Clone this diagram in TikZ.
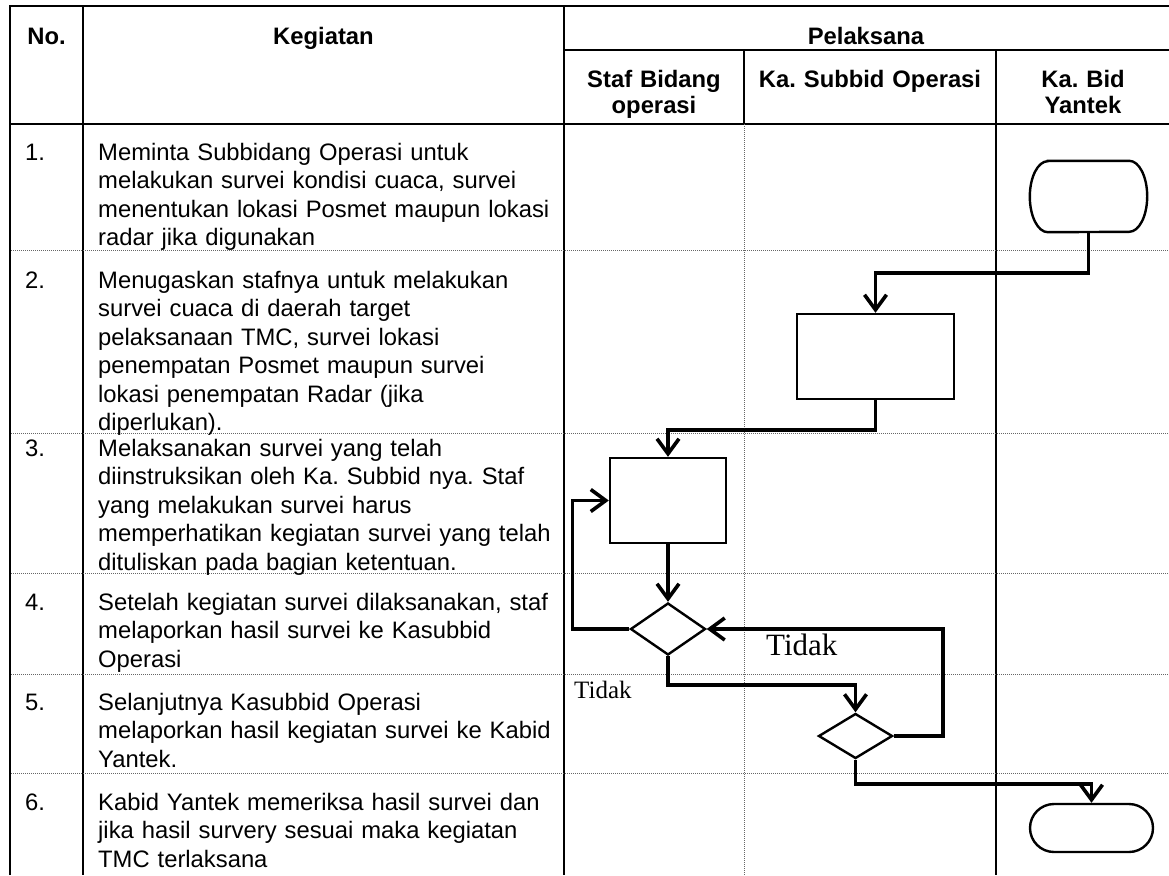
\documentclass[tikz,border=0pt]{standalone}
\usepackage{fontspec}
\setmainfont{Liberation Sans}
\newfontfamily\notefont{Liberation Serif}
\usetikzlibrary{shapes.geometric,arrows.meta}
\frenchspacing

\begin{document}
\begin{tikzpicture}[x=1pt,y=-1pt,
  frame/.style={line width=2.2pt},
  rowline/.style={line width=1pt, black!60, dash pattern=on 1pt off 1pt},
  num/.style={anchor=base west, inner sep=0pt, font=\fontsize{23.8}{28.5}\selectfont},
  task/.style={num, text width=470pt, align=left},
  head/.style={anchor=base, inner sep=0pt, align=center, text width=240pt, font=\fontsize{23.8}{25}\selectfont\bfseries},
  proc/.style={draw, line width=2.4pt, rectangle, inner sep=0pt},
  term/.style={proc, rounded corners=24pt},
  dec/.style={draw, line width=2.4pt, diamond, inner sep=0pt},
  flow/.style={line width=3.6pt, -{Straight Barb[length=15pt,width=22pt]}},
  tidak/.style={anchor=base west, inner sep=0pt}
]
\useasboundingbox (0,0) rectangle (1169,875);
\draw[frame] (10,875) -- (10,6) -- (1169,6);
\draw[frame] (83,6) -- (83,875);
\draw[frame] (564,6) -- (564,875);
\draw[frame] (564,50) -- (1169,50);
\draw[frame] (10,124) -- (1169,124);
\draw[frame] (744,50) -- (744,124);
\draw[frame] (996,50) -- (996,875);
\draw[rowline] (744,124) -- (744,875);
\foreach \ry in {250,433,573,674,773}
  \draw[rowline] (11,\ry) -- (1169,\ry);

\node[head, text width=70pt] (hNo) at (46.5,45) {No.};
\node[head] (hKeg) at (323.5,45) {Kegiatan};
\node[head] (hPel) at (866,45) {Pelaksana};
\node[head, text width=170pt] (hStaf) at (654,88) {Staf Bidang\\operasi};
\node[head] (hSub) at (870,88) {Ka. Subbid Operasi};
\node[head, text width=160pt] (hBid) at (1083,88) {Ka. Bid\\Yantek};

\node[num] (no1) at (25,160) {1.};
\node[task] (kg1) at (98,160) {Meminta Subbidang Operasi untuk\\melakukan survei kondisi cuaca, survei\\menentukan lokasi Posmet maupun lokasi\\radar jika digunakan};
\node[num] (no2) at (25,288) {2.};
\node[task] (kg2) at (98,288) {Menugaskan stafnya untuk melakukan\\survei cuaca di daerah target\\pelaksanaan TMC, survei lokasi\\penempatan Posmet maupun survei\\lokasi penempatan Radar (jika\\diperlukan).};
\node[num] (no3) at (25,456) {3.};
\node[task] (kg3) at (98,456) {Melaksanakan survei yang telah\\diinstruksikan oleh Ka. Subbid nya. Staf\\yang melakukan survei harus\\memperhatikan kegiatan survei yang telah\\dituliskan pada bagian ketentuan.};
\node[num] (no4) at (25,610) {4.};
\node[task] (kg4) at (98,610) {Setelah kegiatan survei dilaksanakan, staf\\melaporkan hasil survei ke Kasubbid\\Operasi};
\node[num] (no5) at (25,710) {5.};
\node[task] (kg5) at (98,710) {Selanjutnya Kasubbid Operasi\\melaporkan hasil kegiatan survei ke Kabid\\Yantek.};
\node[num] (no6) at (25,810) {6.};
\node[task] (kg6) at (98,810) {Kabid Yantek memeriksa hasil survei dan\\jika hasil survery sesuai maka kegiatan\\TMC terlaksana};

\node[inner sep=0pt, minimum width=117pt, minimum height=71pt] (mulai) at (1088.5,196.5) {};
\draw[line width=2.4pt] ([xshift=18pt]mulai.north west) -- ([xshift=-18pt]mulai.north east)
  arc[start angle=90, end angle=-90, x radius=18pt, y radius=35.5pt]
  -- ([xshift=18pt]mulai.south west)
  arc[start angle=270, end angle=90, x radius=18pt, y radius=35.5pt] -- cycle;
\node[proc, minimum width=157pt, minimum height=85pt] (tugas) at (875.5,356.5) {};
\node[proc, minimum width=116pt, minimum height=85pt] (survei) at (668,500.5) {};
\node[dec, minimum width=75pt, minimum height=52pt] (cek1) at (668,629) {};
\node[dec, minimum width=74pt, minimum height=45pt] (cek2) at (855.5,736) {};
\node[term, minimum width=123pt, minimum height=48pt] (selesai) at (1091.5,828) {};

\draw[flow] (mulai.south) -- ++(0,41) -| (tugas.north);
\draw[flow] (tugas.south) -- ++(0,30) -| (survei.north);
\draw[flow] (survei.south) -- (cek1.north);
\draw[flow] (cek1.west) -- ++(-57,0) |- (survei.west);
\draw[flow] (cek1.south) -- ++(0,29) -| (cek2.north);
\draw[flow] (cek2.east) -- ++(49,0) |- (cek1.east);
\draw[flow] (cek2.south) -- ++(0,24) -| (selesai.north);

\node[tidak, font=\notefont\fontsize{31}{31}\selectfont] (tdk1) at (766,655) {Tidak};
\node[tidak, font=\notefont\fontsize{25}{25}\selectfont] (tdk2) at (574,698) {Tidak};
\end{tikzpicture}
\end{document}
